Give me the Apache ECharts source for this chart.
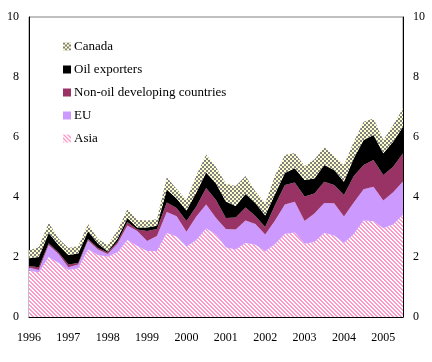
<!DOCTYPE html>
<html>
<head>
<meta charset="utf-8">
<script src="https://cdn.jsdelivr.net/npm/echarts@6/dist/echarts.min.js"></script>
<style>
html,body{margin:0;padding:0;background:#fff;}
#chart{width:432px;height:362px;}
</style>
</head>
<body>
<div id="chart"></div>
<script>
// Quarterly categories 1996Q1 .. 2005Q3
const quarters = [
  "1996Q1","1996Q2","1996Q3","1996Q4","1997Q1","1997Q2","1997Q3","1997Q4",
  "1998Q1","1998Q2","1998Q3","1998Q4","1999Q1","1999Q2","1999Q3","1999Q4",
  "2000Q1","2000Q2","2000Q3","2000Q4","2001Q1","2001Q2","2001Q3","2001Q4",
  "2002Q1","2002Q2","2002Q3","2002Q4","2003Q1","2003Q2","2003Q3","2003Q4",
  "2004Q1","2004Q2","2004Q3","2004Q4","2005Q1","2005Q2","2005Q3"
];
const yTicks = [0, 2, 4, 6, 8, 10];

// Series values (each layer's own contribution, stacked)
const asia = [1.55,1.48,2.00,1.80,1.57,1.62,2.25,2.07,2.01,2.16,2.57,2.37,2.20,2.20,2.80,2.68,2.34,2.57,2.95,2.75,
  2.32,2.25,2.47,2.41,2.19,2.43,2.77,2.82,2.44,2.50,2.80,2.72,2.47,2.77,3.22,3.19,2.96,3.08,3.41];
const eu = [0.10,0.09,0.40,0.30,0.09,0.13,0.30,0.18,0.09,0.29,0.48,0.50,0.33,0.50,0.70,0.68,0.50,0.78,0.80,0.55,
  0.61,0.67,0.75,0.69,0.56,0.79,0.98,1.02,0.76,0.95,1.00,1.07,0.88,1.05,1.04,1.15,0.92,1.08,1.11];
const nonOil = [0.05,0.09,0.06,0.05,0.09,0.05,0.05,0.05,0.05,0.07,0.12,0.05,0.34,0.23,0.32,0.27,0.36,0.33,0.55,0.60,
  0.37,0.40,0.43,0.27,0.25,0.51,0.65,0.64,0.82,0.67,0.71,0.61,0.72,0.88,0.81,0.89,0.85,0.85,0.94];
const oilExporters = [0.26,0.34,0.34,0.25,0.32,0.32,0.26,0.15,0.03,0.10,0.13,0.06,0.11,0.11,0.43,0.32,0.35,0.47,0.52,0.55,
  0.55,0.38,0.45,0.43,0.38,0.37,0.40,0.48,0.55,0.50,0.56,0.50,0.44,0.59,0.83,0.84,0.73,0.83,0.88];
const canada = [0.26,0.33,0.34,0.22,0.23,0.24,0.24,0.15,0.22,0.26,0.30,0.25,0.24,0.22,0.41,0.32,0.35,0.57,0.60,0.55,
  0.59,0.67,0.60,0.38,0.42,0.62,0.60,0.51,0.46,0.63,0.59,0.47,0.56,0.55,0.61,0.55,0.44,0.56,0.62];

function tile(w, h, fn) {
  const c = document.createElement('canvas');
  c.width = w; c.height = h;
  const ctx = c.getContext('2d');
  for (let y = 0; y < h; y++) for (let x = 0; x < w; x++) {
    ctx.fillStyle = fn(x, y);
    ctx.fillRect(x, y, 1, 1);
  }
  return c;
}
const asiaPat = { image: tile(4, 4, (x, y) => (((x - y) % 4 + 4) % 4 < 2 ? '#FF99CC' : '#FFFFFF')), repeat: 'repeat' };
const canadaPat = { image: tile(4, 4, (x, y) => ((Math.floor(x / 2) + Math.floor(y / 2)) % 2 === 0 ? '#808080' : '#FFFFCC')), repeat: 'repeat' };

const font = 'Liberation Serif';
const colors = {
  'Asia': asiaPat,
  'EU': '#CC99FF',
  'Non-oil developing countries': '#993366',
  'Oil exporters': '#000000',
  'Canada': canadaPat
};
const layers = [
  ['Asia', asia], ['EU', eu], ['Non-oil developing countries', nonOil],
  ['Oil exporters', oilExporters], ['Canada', canada]
];

const chart = echarts.init(document.getElementById('chart'), null, { renderer: 'canvas' });
const yAxisCommon = {
  type: 'value', min: yTicks[0], max: yTicks[yTicks.length - 1], interval: 2,
  axisLine: { show: true, lineStyle: { color: '#000', width: 1 } },
  axisTick: { show: false },
  splitLine: { show: false },
  axisLabel: { color: '#000', fontFamily: font, fontSize: 12, margin: 10 }
};
chart.setOption({
  animation: false,
  backgroundColor: '#fff',
  grid: { left: 29, right: 29, top: 17, bottom: 45, show: true, borderColor: '#808080', borderWidth: 1, backgroundColor: 'transparent' },
  legend: {
    orient: 'vertical', left: 58, top: 35, itemWidth: 8, itemHeight: 8, itemGap: 10,
    icon: 'rect', selectedMode: false,
    textStyle: { color: '#000', fontFamily: font, fontSize: 13, padding: [0, 0, 0, -2] },
    data: ['Canada', 'Oil exporters', 'Non-oil developing countries', 'EU', 'Asia'].map(n => ({
      name: n, itemStyle: { color: colors[n], borderWidth: 0 }
    }))
  },
  xAxis: {
    type: 'category', data: quarters, boundaryGap: false,
    axisLine: { show: true, lineStyle: { color: '#000', width: 1 } },
    axisTick: { show: false },
    axisLabel: { color: '#000', fontFamily: font, fontSize: 12, margin: 15, interval: 3,
      formatter: v => v.slice(0, 4) }
  },
  yAxis: [
    Object.assign({}, yAxisCommon, { position: 'left' }),
    Object.assign({}, yAxisCommon, { position: 'right' })
  ],
  series: layers.map(([name, vals]) => ({
    name, type: 'line', stack: 'total', data: vals,
    showSymbol: false, symbol: 'none', silent: true,
    lineStyle: { width: 0 },
    itemStyle: { color: colors[name] },
    areaStyle: { color: colors[name], opacity: 1 },
    emphasis: { disabled: true }
  }))
});
</script>
</body>
</html>
